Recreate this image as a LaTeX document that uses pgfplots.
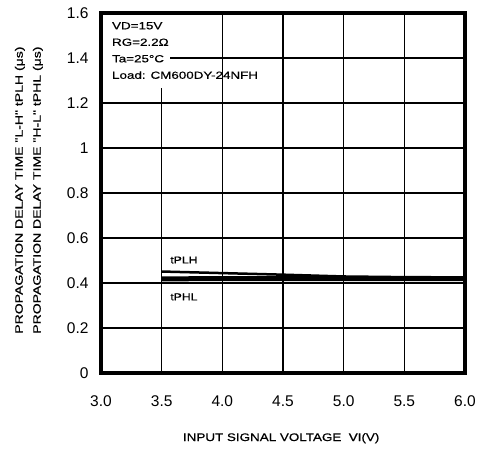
\documentclass[border=0pt]{standalone}
\usepackage{fontspec}
\setmainfont{Liberation Sans}
\newfontfamily\widefont{Liberation Sans}[FakeStretch=1.3, FakeBold=0.6]
\newfontfamily\widerfont{Liberation Sans}[FakeStretch=1.22, FakeBold=0.6]
\usepackage{pgfplots}
\pgfplotsset{compat=1.18}

\begin{document}
\begin{tikzpicture}
\useasboundingbox (-101bp,-81bp) rectangle (378bp,373bp);
\begin{axis}[
  scale only axis,
  width=364bp, height=360bp,
  xmin=3, xmax=6,
  ymin=0, ymax=1.6,
  xtick={3,3.5,4,4.5,5,5.5,6},
  ytick={0,0.2,0.4,0.6,0.8,1,1.2,1.4,1.6},
  grid=major,
  grid style={black, line width=1.1bp},
  axis line style={black, line width=3.5bp},
  major tick length=0pt,
  tick label style={font=\fontsize{15.5bp}{18bp}\selectfont},
  /pgf/number format/assume math mode=true,
  xticklabel style={/pgf/number format/fixed, /pgf/number format/fixed zerofill,
    /pgf/number format/precision=1, yshift=-19bp},
  yticklabel style={xshift=-9bp},
  xlabel={INPUT SIGNAL VOLTAGE\ \ VI(V)},
  xlabel style={at={(axis description cs:0.495,-0.181)}, anchor=center,
    font=\fontsize{11bp}{13bp}\selectfont\widerfont},
  ylabel={PROPAGATION DELAY TIME "L-H" tPLH (μs)\\[5bp]PROPAGATION DELAY TIME "H-L" tPHL (μs)},
  ylabel style={at={(axis description cs:-0.198,0.508)}, anchor=center, align=center,
    font=\fontsize{10.8bp}{13bp}\selectfont\widefont},
]

% tPHL
\addplot[black, line width=5bp] coordinates {
  (3.5,0.418) (4.0,0.420) (4.5,0.420) (5.0,0.420) (5.5,0.420) (6.0,0.420)
};
% tPLH
\addplot[black, line width=2.5bp] coordinates {
  (3.5,0.451) (4.0,0.444) (4.5,0.437) (5.0,0.429) (5.5,0.426) (6.0,0.425)
};

\fill[white] (axis cs:3.02,1.267) rectangle (axis cs:3.57,1.59);
\node[anchor=north west, inner sep=0pt, align=left,
  font=\fontsize{10.3bp}{16.5bp}\selectfont\widefont]
  at (axis description cs:0.03,0.975)
  {VD=15V\\RG=2.2Ω\\Ta=25°C\\Load: CM600DY-24NFH};

\node[anchor=west, inner sep=0pt, font=\fontsize{10bp}{12bp}\selectfont\widerfont]
  at (axis cs:3.57,0.502) {tPLH};
\node[anchor=west, inner sep=0pt, font=\fontsize{10bp}{12bp}\selectfont\widerfont]
  at (axis cs:3.57,0.338) {tPHL};
\end{axis}
\end{tikzpicture}
\end{document}
